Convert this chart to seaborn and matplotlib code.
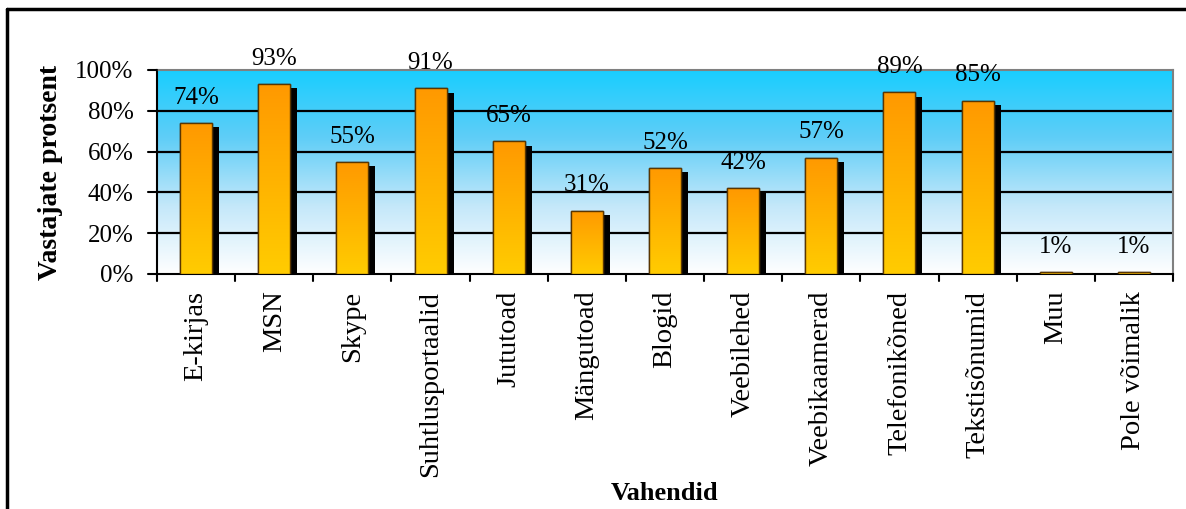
import numpy as np
import pandas as pd
import matplotlib
matplotlib.use("Agg")
import matplotlib.pyplot as plt
import matplotlib.patheffects as pe
from matplotlib.colors import LinearSegmentedColormap
from matplotlib.ticker import PercentFormatter
from matplotlib.lines import Line2D
import seaborn as sns

# Andmed
vahendid = ["E-kirjas", "MSN", "Skype", "Suhtlusportaalid", "Jututoad",
            "Mängutoad", "Blogid", "Veebilehed", "Veebikaamerad",
            "Telefonikõned", "Tekstisõnumid", "Muu", "Pole võimalik"]
protsent = [74, 93, 55, 91, 65, 31, 52, 42, 57, 89, 85, 1, 1]

df = pd.DataFrame({"Vahendid": vahendid, "Protsent": protsent})

sns.set_theme(style="white")
plt.rcParams["font.family"] = ["Liberation Serif", "DejaVu Serif"]
plt.rcParams["text.color"] = "black"
plt.rcParams["axes.labelcolor"] = "black"
plt.rcParams["xtick.color"] = "black"
plt.rcParams["ytick.color"] = "black"

fig = plt.figure(figsize=(11.86, 5.09), dpi=100)
ax = fig.add_axes([157 / 1186, 1 - 274 / 509, (1173 - 157) / 1186, (274 - 70) / 509])

# taust: sinine -> valge
taust = LinearSegmentedColormap.from_list("taust", ["#ffffff", "#c4e8fa", "#60cef7", "#19cdff"])
ax.imshow(np.linspace(0, 1, 256).reshape(-1, 1), cmap=taust, origin="lower",
          extent=[0, 1, 0, 1], transform=ax.transAxes, aspect="auto", zorder=0)

sns.barplot(data=df, x="Vahendid", y="Protsent", color="#ff9900", width=0.41,
            edgecolor="#222222", linewidth=1.0, ax=ax, zorder=3)

tulp = LinearSegmentedColormap.from_list("tulp", ["#ffcc00", "#ff9900"])
grad = np.linspace(0, 1, 256).reshape(-1, 1)
for p in ax.patches:
    p.set_path_effects([pe.SimplePatchShadow(offset=(5, -3), shadow_rgbFace="black", alpha=1.0),
                        pe.Normal()])
    x0, y0 = p.get_x(), p.get_y()
    w, h = p.get_width(), p.get_height()
    im = ax.imshow(grad, cmap=tulp, origin="lower", extent=[x0, x0 + w, y0, y0 + h],
                   aspect="auto", zorder=3.5)
    im.set_clip_path(p)
    ax.add_patch(plt.Rectangle((x0, y0), w, h, fill=False, edgecolor="#5a3600",
                               linewidth=1.0, zorder=3.6))
    ax.text(x0 + w / 2, h + 7, f"{h:.0f}%", ha="center", va="bottom",
            fontsize=18, zorder=5)

ax.set_xlim(-0.5, len(vahendid) - 0.5)
ax.set_ylim(0, 100)
ax.set_yticks(range(0, 101, 20))
ax.yaxis.set_major_formatter(PercentFormatter(decimals=0))
for y in range(20, 100, 20):
    ax.axhline(y, color="black", linewidth=1.6, zorder=1)

ax.set_xticks(np.arange(len(vahendid)))
ax.set_xticklabels(vahendid, rotation=90, fontsize=20.5)
ax.tick_params(axis="x", length=0, pad=12)
ax.tick_params(axis="y", labelsize=18, length=0, pad=17, left=False)
# tulpade vahelised kriipsud
for k in np.arange(-0.5, len(vahendid), 1.0):
    ax.plot([k, k], [0, -3.5], color="black", linewidth=1.5, clip_on=False, zorder=6)
for y in range(0, 101, 20):
    ax.plot([-0.5 - 0.11, -0.5], [y, y], color="black", linewidth=1.5, clip_on=False, zorder=6)

for s in ["top", "right"]:
    ax.spines[s].set_color("#808080")
    ax.spines[s].set_linewidth(1.5)
for s in ["left", "bottom"]:
    ax.spines[s].set_color("black")
    ax.spines[s].set_linewidth(1.5)

ax.set_xlabel("Vahendid", fontsize=19, fontweight="bold", labelpad=4)
ax.set_ylabel("Vastajate protsent", fontsize=20, fontweight="bold", labelpad=9)

# ääris
fig.add_artist(Line2D([7 / 1186, 7 / 1186], [0, 1 - 9 / 509], color="black", linewidth=2.5))
fig.add_artist(Line2D([7 / 1186, 1], [1 - 9 / 509, 1 - 9 / 509], color="black", linewidth=2.5))

fig.savefig("out.png", dpi=100)
